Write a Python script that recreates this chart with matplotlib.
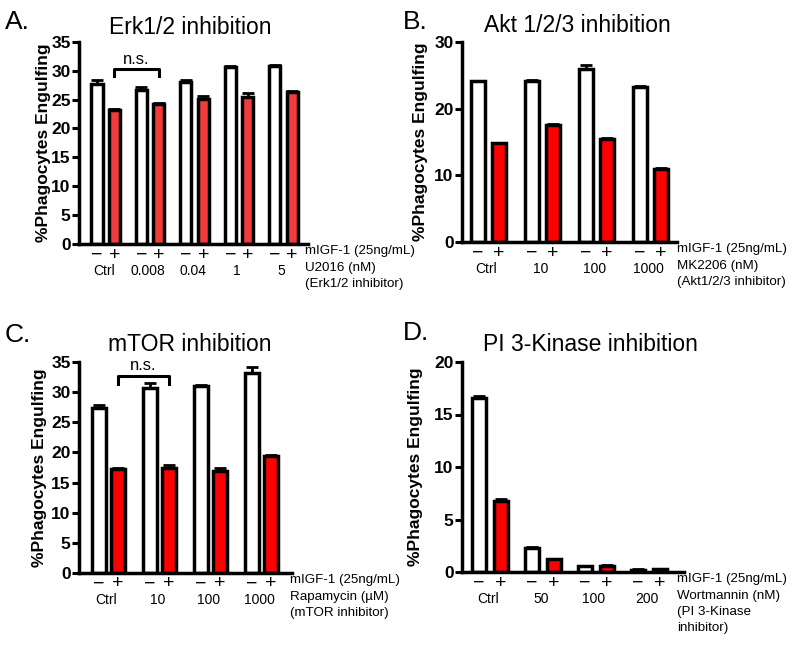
import numpy as np
import matplotlib
matplotlib.use("Agg")
import matplotlib.pyplot as plt

plt.rcParams['font.family'] = ['Liberation Sans', 'DejaVu Sans']

# ---- data ----
erk_groups = ["Ctrl", "0.008", "0.04", "1", "5"]
erk_minus = [27.6, 26.6, 28.1, 30.6, 30.8]
erk_minus_err = [0.8, 0.5, 0.2, 0.2, 0.2]
erk_plus = [23.1, 24.3, 25.1, 25.5, 26.3]
erk_plus_err = [0.2, 0.1, 0.5, 0.6, 0.2]

akt_groups = ["Ctrl", "10", "100", "1000"]
akt_minus = [24.1, 24.1, 26.0, 23.3]
akt_minus_err = [0.05, 0.2, 0.6, 0.1]
akt_plus = [14.8, 17.5, 15.5, 10.9]
akt_plus_err = [0.1, 0.2, 0.1, 0.2]

mtor_groups = ["Ctrl", "10", "100", "1000"]
mtor_minus = [27.3, 30.7, 31.1, 33.2]
mtor_minus_err = [0.5, 0.8, 0.1, 0.9]
mtor_plus = [17.3, 17.4, 17.0, 19.4]
mtor_plus_err = [0.2, 0.5, 0.4, 0.2]

pi3k_groups = ["Ctrl", "50", "100", "200"]
pi3k_minus = [16.6, 2.3, 0.55, 0.2]
pi3k_minus_err = [0.15, 0.05, 0.05, 0.05]
pi3k_plus = [6.8, 1.2, 0.6, 0.25]
pi3k_plus_err = [0.15, 0.05, 0.05, 0.05]

FW, FH = 800, 645
fig = plt.figure(figsize=(FW / 100, FH / 100), dpi=100)

# vertical offsets (px) of the condition lines right of each x axis
right_lines_dy = [7, 24, 40, 56]


def px_axes(left, right, top, bottom):
    return fig.add_axes([left / FW, 1 - bottom / FH, (right - left) / FW, (bottom - top) / FH])


def panel(box, groups, minus, minus_err, plus, plus_err, ymax, ystep, red,
          xlim, off, width, letter, title, title_xy, letter_xy, ylabel_x,
          right_lines, text_x, ns=None):
    ax = px_axes(*box)
    x = np.arange(len(groups))
    ax.bar(x - off, minus, width, color='white', edgecolor='black', linewidth=2.5, zorder=2)
    ax.bar(x + off, plus, width, color=red, edgecolor='black', linewidth=2.5, zorder=2)
    ax.errorbar(x - off, minus, yerr=[np.zeros(len(minus)), minus_err], fmt='none',
                ecolor='black', elinewidth=2, capsize=4, capthick=2, zorder=1)
    ax.errorbar(x + off, plus, yerr=[np.zeros(len(plus)), plus_err], fmt='none',
                ecolor='black', elinewidth=2, capsize=4, capthick=2, zorder=1)
    ax.set_xlim(*xlim)
    ax.set_ylim(0, ymax)
    ax.set_yticks(np.arange(0, ymax + 0.1, ystep))
    ax.set_xticks([])
    for s in ['top', 'right']:
        ax.spines[s].set_visible(False)
    for s in ['left', 'bottom']:
        ax.spines[s].set_linewidth(2.5)
    ax.tick_params(axis='y', width=2.2, length=5, labelsize=12.5, pad=1)
    for lab in ax.get_yticklabels():
        lab.set_fontweight('bold')
    ax.patch.set_alpha(0)

    # -/+ and group labels under bars
    for i, g in enumerate(groups):
        ax.annotate('\u2212', xy=(i - off, 0), xycoords=('data', 'axes fraction'),
                    xytext=(0, -11), textcoords='offset pixels', ha='center', va='center', fontsize=14)
        ax.annotate('+', xy=(i + off, 0), xycoords=('data', 'axes fraction'),
                    xytext=(0, -11), textcoords='offset pixels', ha='center', va='center', fontsize=14)
        ax.annotate(g, xy=(i, 0), xycoords=('data', 'axes fraction'),
                    xytext=(-2, -27), textcoords='offset pixels', ha='center', va='center', fontsize=10)
    for j, line in enumerate(right_lines):
        fig.text(text_x / FW, 1 - (box[3] + right_lines_dy[j]) / FH, line,
                 ha='left', va='center', fontsize=9.6)

    if ns is not None:
        x0, x1, ytop, ybot = ns
        ax.plot([x0, x0, x1, x1], [ybot, ytop, ytop, ybot], color='black', lw=2.2, clip_on=False)
        ax.text((x0 + x1) / 2, ytop + 0.5, 'n.s.', ha='center', va='bottom', fontsize=12)

    fig.text(title_xy[0] / FW, 1 - title_xy[1] / FH, title, ha='center', va='center', fontsize=16.5)
    fig.text(letter_xy[0] / FW, 1 - letter_xy[1] / FH, letter, ha='left', va='center', fontsize=19)
    fig.text(ylabel_x / FW, 1 - (box[2] + box[3]) / 2 / FH, '%Phagocytes Engulfing',
             rotation=90, ha='center', va='center', fontsize=12.5, fontweight='bold')
    return ax


panel((79, 308, 41.7, 244), erk_groups, erk_minus, erk_minus_err, erk_plus, erk_plus_err,
      35, 5, '#F23B3B', (-0.6, 4.55), 0.195, 0.25, 'A.', 'Erk1/2 inhibition', (190, 27), (5, 22), 44,
      ['mIGF-1 (25ng/mL)', 'U2016 (nM)', '(Erk1/2 inhibitor)'], 305,
      ns=(0.195, 1.195, 30.2, 29.0))

panel((462, 677, 42, 242), akt_groups, akt_minus, akt_minus_err, akt_plus, akt_plus_err,
      30, 10, '#FF0000', (-0.49, 3.49), 0.195, 0.26, 'B.', 'Akt 1/2/3 inhibition', (577, 25), (403, 22), 421,
      ['mIGF-1 (25ng/mL)', 'MK2206 (nM)', '(Akt1/2/3 inhibitor)'], 677)

panel((79, 292, 362, 573), mtor_groups, mtor_minus, mtor_minus_err, mtor_plus, mtor_plus_err,
      35, 5, '#FF0000', (-0.58, 3.6), 0.186, 0.26, 'C.', 'mTOR inhibition', (190, 345), (5, 335), 40,
      ['mIGF-1 (25ng/mL)', 'Rapamycin (\u00b5M)', '(mTOR inhibitor)'], 290,
      ns=(0.186, 1.186, 32.6, 31.4))

panel((462, 684, 362, 572), pi3k_groups, pi3k_minus, pi3k_minus_err, pi3k_plus, pi3k_plus_err,
      20, 5, '#FF0000', (-0.53, 3.66), 0.21, 0.26, 'D.', 'PI 3-Kinase inhibition', (590, 345), (403, 333), 415,
      ['mIGF-1 (25ng/mL)', 'Wortmannin (nM)', '(PI 3-Kinase', 'inhibitor)'], 677)

fig.savefig('out.png', dpi=100)
